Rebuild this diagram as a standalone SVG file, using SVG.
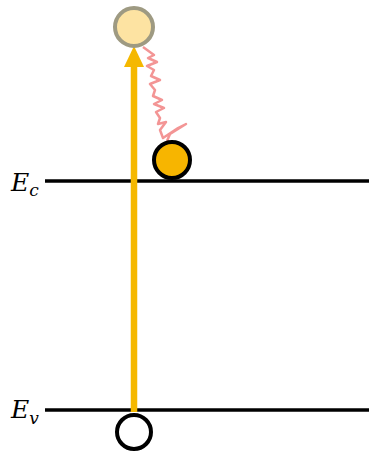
<svg xmlns="http://www.w3.org/2000/svg" width="369" height="451" viewBox="0 0 369 451">
<style>
.lvl{stroke:#000;stroke-width:3.5;fill:none}
.lbl{font-family:"DejaVu Serif","Liberation Serif",serif;font-style:italic;font-size:25px;fill:#000}
.sub{font-size:17px}
</style>
<rect width="369" height="451" fill="#fff"/>
<g id="levels">
<line class="lvl" x1="45" y1="181" x2="369" y2="181"/>
<line class="lvl" x1="45" y1="410" x2="369" y2="410"/>
</g>
<g id="labels">
<text class="lbl" x="11" y="191">E<tspan class="sub" dy="5">c</tspan></text>
<text class="lbl" x="11" y="418">E<tspan class="sub" dy="6">v</tspan></text>
</g>
<g id="connectors">
<line x1="134" y1="412" x2="134" y2="64" stroke="#F5B800" stroke-width="6.5"/>
<path d="M124,67 L134,46 L144,67 Z" fill="#F5B800"/>
<polyline points="143,47 154,55 148,58 157,62 147,66 154,70 151,76 160,80 150,84 155,90 153,96 162,100 154,104 164,108 156,112 160,118 158,124 166,122 160,130 163,138 178,128 186,124 170,134 167,141" fill="none" stroke="#F28A8A" stroke-width="2.5" stroke-linejoin="round" stroke-opacity="0.9"/>
</g>
<g id="excited">
<circle cx="134" cy="27" r="19" fill="#FDE3A2" stroke="#9E9A82" stroke-width="4"/>
</g>
<g id="electron">
<circle cx="172" cy="160" r="18" fill="#F7B500" stroke="#000" stroke-width="4"/>
</g>
<g id="hole">
<circle cx="134" cy="432" r="17" fill="#fff" stroke="#000" stroke-width="4"/>
</g>
</svg>
